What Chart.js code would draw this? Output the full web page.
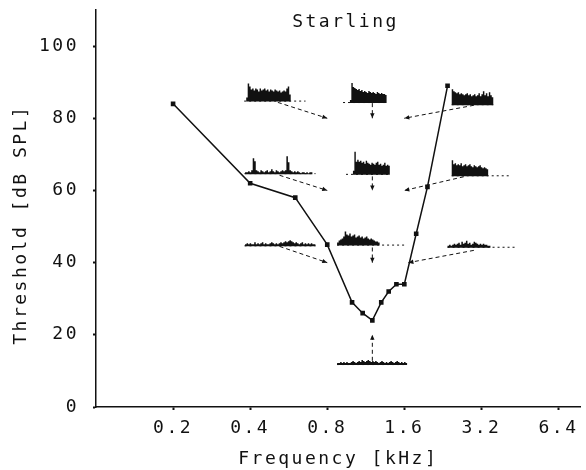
<!DOCTYPE html>
<html><head><meta charset="utf-8">
<script src="https://cdn.jsdelivr.net/npm/chart.js@4"></script>
<style>html,body{margin:0;padding:0;background:#fff}</style>
</head><body>
<canvas id="c" width="586" height="470"></canvas>
<script>
// ---- data ----
const chartTitle = 'Starling';
const yAxisTitle = 'Threshold [dB SPL]';
const xAxisTitle = 'Frequency [kHz]';
const freqKHz     = [0.2, 0.4, 0.6, 0.8, 1.0, 1.1, 1.2, 1.3, 1.39, 1.49, 1.6, 1.78, 1.97, 2.36];
const thresholdDb = [84,  62,  58,  45,  29,  26,  24,  29,  32,   34,   34,  48,   61,   89];
const xTickValues = [0.2, 0.4, 0.8, 1.6, 3.2, 6.4];
const yTickValues = [0, 20, 40, 60, 80, 100];

// stimulus arrows: from histogram to stimulus (kHz, dB)
const arrowFromKHz = [0.513, 1.2, 2.99, 0.521, 1.2, 2.73, 0.521, 1.2, 2.99, 1.2];
const arrowFromDb  = [84.4, 84.2, 83.6, 64.2, 63.9, 63.8, 44.5, 44.2, 43.4, 12.8];
const arrowToKHz   = [0.8, 1.2, 1.6, 0.8, 1.2, 1.6, 0.8, 1.2, 1.66, 1.2];
const arrowToDb    = [80, 80, 80, 60, 60, 60, 40, 40, 40, 20];

// response histograms (spike counts per bin)
const histStartKHz = [0.386, 0.981, 2.45, 0.382, 1.008, 2.45, 0.382, 0.874, 2.36, 0.874];
const histEndKHz   = [0.576, 1.364, 3.56, 0.70, 1.404, 3.40, 0.719, 1.281, 3.47, 1.64];
const histBaseDb   = [84.9, 84.5, 83.9, 64.8, 64.6, 64.2, 44.8, 45.0, 44.4, 11.9];
const histExtFromKHz = [0.379, 0.922, 2.45, 0.38, 0.947, 2.45, 0.38, 0.874, 2.36, 0.874];
const histExtToKHz   = [0.658, 1.364, 3.56, 0.72, 1.404, 4.14, 0.72, 1.6, 4.33, 1.64];
const histCounts = [
  [3,17,14,11,12,10,12,11,9,12,10,11,12,10,11,9,11,10,9,11,10,9,10,8,9,10,9,12,14,6],
  [2,19,15,14,13,12,13,11,12,10,11,10,9,11,10,9,10,9,8,10,9,8,9,8,8,7],
  [15,13,12,11,12,10,11,10,9,10,11,9,10,8,9,10,8,9,11,8,10,13,9,11,8,12,9,7],
  [1,1,2,1,3,15,12,3,2,1,3,2,1,2,3,1,2,4,2,1,3,2,1,2,3,2,3,17,11,3,2,1,2,1,2,1,0,1,1,0,1,0,1,1],
  [3,22,12,14,12,13,11,12,10,13,11,10,9,11,10,9,11,12,9,10,8,9,11,8,9,8],
  [15,11,12,10,11,10,12,9,10,11,9,10,11,9,8,10,9,8,9,10,8,7,8,7,6],
  [1,2,1,2,1,1,3,1,2,1,2,3,1,2,1,1,2,3,2,1,2,1,2,3,2,3,4,3,4,5,4,3,2,3,2,1,2,3,1,2,1,2,1,2,1,1],
  [2,4,5,6,8,13,10,9,11,8,9,10,7,8,9,7,8,6,7,8,6,5,6,5,4,3,3,2],
  [1,2,1,2,3,2,3,4,2,5,3,4,6,3,4,2,3,5,4,3,2,3,2,3,2,2,1,1],
  [1,1,2,1,2,1,2,1,1,2,3,2,1,2,3,2,4,3,2,3,4,3,2,3,2,3,2,1,2,3,2,1,2,1,2,3,2,1,2,3,2,1,2,1,2,1]
];

// ---- styles ----
const INK = '#111';
const FONT = {family: '"DejaVu Sans Mono", "Liberation Mono", monospace', size: 18};
const PX_PER_COUNT = 1;

const spacingPlugin = {
  id: 'spacing',
  beforeUpdate(chart){ chart.ctx.letterSpacing = '2.5px'; },
  beforeDraw(chart){ chart.ctx.letterSpacing = '2.5px'; }
};

const decorPlugin = {
  id: 'decor',
  afterDatasetsDraw(chart){
    const ctx = chart.ctx, xs = chart.scales.x, ys = chart.scales.y;
    ctx.save();
    // histograms
    for (let h = 0; h < histCounts.length; h++){
      const yb = ys.getPixelForValue(histBaseDb[h]);
      const ex0 = xs.getPixelForValue(histExtFromKHz[h]);
      const ex1 = xs.getPixelForValue(histExtToKHz[h]);
      ctx.strokeStyle = INK; ctx.lineWidth = 1; ctx.setLineDash([2,3]);
      ctx.beginPath(); ctx.moveTo(ex0, yb + 0.5); ctx.lineTo(ex1, yb + 0.5); ctx.stroke();
      ctx.setLineDash([]);
      const x0 = xs.getPixelForValue(histStartKHz[h]);
      const x1 = xs.getPixelForValue(histEndKHz[h]);
      const bins = histCounts[h];
      const bw = (x1 - x0) / bins.length;
      ctx.fillStyle = INK;
      ctx.beginPath();
      ctx.moveTo(x0, yb + 1);
      bins.forEach((c, i) => {
        const top = yb - c * PX_PER_COUNT;
        ctx.lineTo(x0 + i * bw, top);
        ctx.lineTo(x0 + (i + 1) * bw, top);
      });
      ctx.lineTo(x1, yb + 1);
      ctx.closePath();
      ctx.fill();
    }
    // arrowheads
    for (let a = 0; a < arrowToKHz.length; a++){
      const fx = xs.getPixelForValue(arrowFromKHz[a]), fy = ys.getPixelForValue(arrowFromDb[a]);
      const tx = xs.getPixelForValue(arrowToKHz[a]), ty = ys.getPixelForValue(arrowToDb[a]);
      const ang = Math.atan2(ty - fy, tx - fx);
      const L = 5, W = 2.2;
      ctx.fillStyle = INK;
      ctx.beginPath();
      ctx.moveTo(tx, ty);
      ctx.lineTo(tx - L*Math.cos(ang) + W*Math.sin(ang), ty - L*Math.sin(ang) - W*Math.cos(ang));
      ctx.lineTo(tx - L*Math.cos(ang) - W*Math.sin(ang), ty - L*Math.sin(ang) + W*Math.cos(ang));
      ctx.closePath(); ctx.fill();
    }
    // title inside plot
    const ca = chart.chartArea;
    ctx.font = `${FONT.size}px ${FONT.family}`;
    ctx.fillStyle = INK; ctx.textAlign = 'center'; ctx.textBaseline = 'middle';
    ctx.fillText(chartTitle, ca.left + (ca.right - ca.left) * 0.515, ca.top + 12);
    // y-axis title
    ctx.translate(21, ys.getPixelForValue(50.5));
    ctx.rotate(-Math.PI / 2);
    ctx.fillText(yAxisTitle, 0, 0);
    ctx.restore();
  }
};

const arrowDatasets = arrowToKHz.map((_, a) => ({
  type: 'line',
  data: [{x: arrowFromKHz[a], y: arrowFromDb[a]}, {x: arrowToKHz[a], y: arrowToDb[a]}],
  borderColor: INK, borderWidth: 1, borderDash: [4, 3], pointRadius: 0, fill: false
}));

new Chart(document.getElementById('c'), {
  type: 'line',
  data: {
    datasets: [{
      data: freqKHz.map((f, i) => ({x: f, y: thresholdDb[i]})),
      borderColor: INK, borderWidth: 1.5, pointRadius: 2.2, pointStyle: 'rect',
      pointBackgroundColor: INK, pointBorderColor: INK, tension: 0, fill: false
    }, ...arrowDatasets]
  },
  options: {
    responsive: false, animation: false,
    layout: {padding: {top: 10, right: 0, left: 0, bottom: 0}},
    plugins: {legend: {display: false}, tooltip: {enabled: false}, title: {display: false}},
    scales: {
      x: {
        type: 'logarithmic', min: 0.1, max: 7.8,
        afterBuildTicks: s => { s.ticks = xTickValues.map(v => ({value: v})); },
        afterFit: s => { s.height = 63; s.paddingLeft = 0; s.paddingRight = 0; },
        ticks: {callback: v => Number(v).toFixed(1), font: FONT, color: INK, padding: 8, maxRotation: 0, autoSkip: false},
        grid: {drawOnChartArea: false, tickLength: 3, tickWidth: 2, color: INK},
        border: {color: INK, width: 1.5},
        title: {display: true, text: xAxisTitle, font: FONT, color: INK, padding: {top: 2, bottom: 0}}
      },
      y: {
        min: 0, max: 110,
        afterBuildTicks: s => { s.ticks = yTickValues.map(v => ({value: v})); },
        afterFit: s => { s.width = 96; s.paddingTop = 0; s.paddingBottom = 0; },
        ticks: {font: FONT, color: INK, padding: 14},
        grid: {drawOnChartArea: false, tickLength: 3, tickWidth: 2, color: INK},
        border: {color: INK, width: 1.5},
        title: {display: false}
      }
    }
  },
  plugins: [spacingPlugin, decorPlugin]
});
</script>
</body></html>
